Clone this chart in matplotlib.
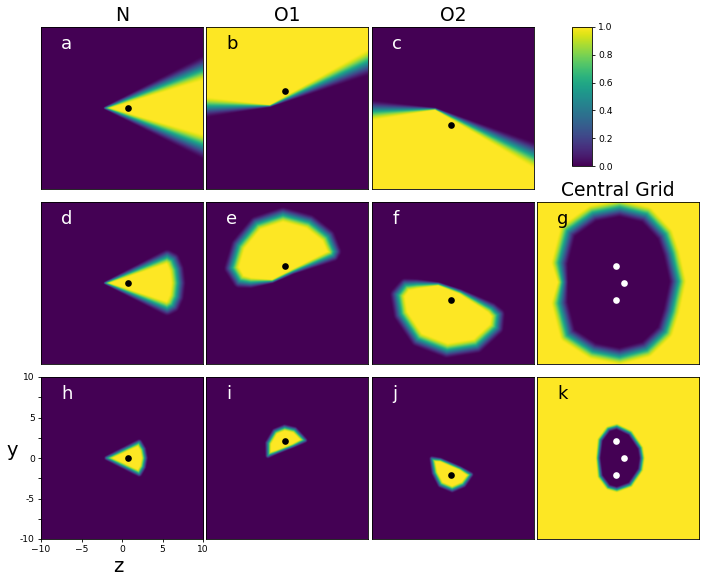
import numpy as np
import matplotlib
matplotlib.use('Agg')
import matplotlib.pyplot as plt
from matplotlib.path import Path

# outlines of the 0.5 contour: (z, y, edge width)
outline_a = [(-2.1, 0.0, 0.4), (14, 6.5, 4.0), (14, -6.3, 4.0)]
outline_b = [(-14, 0.0, 4.0), (-2.1, 0.25, 0.3), (14, 7.3, 4.2), (14, 20, 4.0), (-14, 20, 4.0)]
outline_c = [(-14, -0.35, 4.0), (-2.2, -0.1, 0.3), (14, -7.6, 4.2), (14, -20, 4.0), (-14, -20, 4.0)]
outline_d = [(-2.1, 0.0, 0.4), (5.6, 3.3, 1.9), (6.3, 2.9, 2.0), (6.8, 1.7, 2.0), (7.0, 0.0, 2.0),
             (6.8, -1.7, 2.0), (6.3, -2.8, 2.0), (5.6, -3.2, 1.9)]
outline_e = [(-1.8, 0.2, 0.5), (-4.5, 0.0, 1.5), (-5.9, 0.2, 1.9), (-6.9, 1.85, 2.0), (-6.05, 4.7, 2.0),
             (-3.8, 7.4, 2.0), (-0.5, 8.5, 2.0), (2.8, 7.6, 2.0), (5.1, 5.8, 2.0), (5.9, 3.9, 1.9),
             (5.7, 3.4, 1.7), (0.75, 1.4, 0.7)]
outline_f = [(-1.8, -0.1, 0.5), (-4.5, -0.1, 1.4), (-5.9, -0.2, 1.8), (-6.9, -1.45, 2.0), (-6.5, -3.9, 2.0),
             (-4.4, -7.0, 2.0), (-0.75, -8.4, 2.0), (2.95, -7.8, 2.0), (5.4, -5.55, 2.0), (5.6, -3.9, 1.9),
             (4.8, -3.1, 1.6), (0.9, -1.05, 0.7)]
outline_g = [(-6.8, 0.1, 1.5), (-7.2, 2.5, 2.3), (-6.2, 6.4, 2.3), (-3.1, 8.6, 2.3), (0.2, 9.25, 2.3),
             (3.5, 8.45, 2.3), (5.8, 6.0, 2.3), (6.6, 3.7, 2.3), (7.4, 0.2, 2.3), (6.6, -3.5, 2.3),
             (5.8, -6.0, 2.3), (3.5, -8.2, 2.3), (0.2, -9.05, 2.3), (-3.1, -8.4, 2.3), (-6.2, -6.4, 2.3),
             (-7.2, -2.5, 2.3)]
outline_h = [(-1.95, 0.0, 0.7), (2.05, 1.95, 0.9), (2.55, 1.1, 0.9), (2.75, 0.0, 0.9), (2.55, -1.1, 0.9),
             (2.05, -1.95, 0.9)]
outline_i = [(-2.35, 0.3, 0.8), (-2.35, 1.85, 0.9), (-1.5, 3.3, 0.9), (-0.3, 3.8, 0.9), (0.95, 3.5, 0.9),
             (2.2, 2.2, 0.8), (0.75, 1.5, 0.6), (-1.3, 0.7, 0.6)]
outline_j = [(-2.6, -0.1, 0.8), (-2.3, -1.85, 0.9), (-1.55, -3.3, 0.9), (-0.1, -3.9, 0.9), (1.3, -3.3, 0.9),
             (2.2, -2.05, 0.8), (0.9, -1.25, 0.6), (-1.55, -0.2, 0.6)]
outline_k = [(-2.5, 0.0, 0.7), (-2.25, 2.25, 0.8), (-1.25, 3.6, 0.8), (-0.2, 3.9, 0.8), (1.45, 3.1, 0.8),
             (2.7, 1.25, 0.8), (2.9, 0.0, 0.8), (2.7, -1.45, 0.8), (1.45, -3.3, 0.8), (-0.2, -3.9, 0.8),
             (-1.25, -3.6, 0.8), (-2.25, -2.25, 0.8)]

atom_n = (0.74, 0.0)
atom_o1 = (-0.25, 2.1)
atom_o2 = (-0.25, -2.1)

column_titles = ['N', 'O1', 'O2']
y_ticks = [-10, -7.5, -5, -2.5, 0, 2.5, 5, 7.5, 10]
y_labels = ['-10', '', '-5', '', '0', '', '5', '', '10']
x_ticks = [-10, -5, 0, 5, 10]
cbar_ticks = [0.0, 0.2, 0.4, 0.6, 0.8, 1.0]

W, H = 706, 583
col_x = [41, 206, 372, 537]
row_y = [27, 202, 377]
SIZE = 162

zz, yy = np.meshgrid(np.linspace(-10, 10, 300), np.linspace(-10, 10, 300))


def soft_mask(outline, invert=False):
    pts = np.array(outline, dtype=float)
    xy = np.column_stack([zz.ravel(), yy.ravel()])
    inside = Path(pts[:, :2]).contains_points(xy).reshape(zz.shape)

    best = np.full(zz.shape, np.inf)
    width = np.ones(zz.shape)
    for p, q in zip(pts, np.roll(pts, -1, axis=0)):
        d = q[:2] - p[:2]
        t = np.clip(((zz - p[0]) * d[0] + (yy - p[1]) * d[1]) / (d @ d), 0, 1)
        dist = np.hypot(zz - p[0] - t * d[0], yy - p[1] - t * d[1])
        w = p[2] + t * (q[2] - p[2])
        closer = dist < best
        best[closer] = dist[closer]
        width[closer] = w[closer]

    signed = np.where(inside, best, -best)
    t = np.clip(0.5 + signed / width, 0, 1)
    val = t * t * (3 - 2 * t)
    return 1 - val if invert else val


def make_axes(col, row):
    return fig.add_axes([col_x[col] / W, 1 - (row_y[row] + SIZE) / H, SIZE / W, SIZE / H])


def draw_panel(col, row, outline, letter, atoms, invert=False):
    ax = make_axes(col, row)
    ax.imshow(soft_mask(outline, invert), origin='lower', extent=[-10, 10, -10, 10],
              cmap='viridis', vmin=0, vmax=1, interpolation='bilinear')
    dot = 'white' if invert else 'black'
    for z, y in atoms:
        ax.plot(z, y, 'o', color=dot, ms=4.8, mew=0)
    ax.set_xlim(-10, 10)
    ax.set_ylim(-10, 10)
    ax.set_xticks([])
    ax.set_yticks([])
    for s in ax.spines.values():
        s.set_linewidth(0.6)
    ax.text(0.125, 0.865, letter, transform=ax.transAxes, fontsize=13,
            color='black' if letter in 'bgk' else 'white')
    return ax


fig = plt.figure(figsize=(W / 100, H / 100), dpi=100)

axes_a = draw_panel(0, 0, outline_a, 'a', [atom_n])
axes_b = draw_panel(1, 0, outline_b, 'b', [atom_o1])
axes_c = draw_panel(2, 0, outline_c, 'c', [atom_o2])
draw_panel(0, 1, outline_d, 'd', [atom_n])
draw_panel(1, 1, outline_e, 'e', [atom_o1])
draw_panel(2, 1, outline_f, 'f', [atom_o2])
axes_g = draw_panel(3, 1, outline_g, 'g', [atom_n, atom_o1, atom_o2], invert=True)
axes_h = draw_panel(0, 2, outline_h, 'h', [atom_n])
draw_panel(1, 2, outline_i, 'i', [atom_o1])
draw_panel(2, 2, outline_j, 'j', [atom_o2])
draw_panel(3, 2, outline_k, 'k', [atom_n, atom_o1, atom_o2], invert=True)

for ax, title in zip([axes_a, axes_b, axes_c], column_titles):
    ax.set_title(title, fontsize=13.5, pad=4)
axes_g.set_title('Central Grid', fontsize=13.5, pad=4)

axes_h.set_xticks(x_ticks)
axes_h.set_yticks(y_ticks)
axes_h.set_yticklabels(y_labels)
axes_h.tick_params(labelsize=6.6, length=2.5, width=0.6, pad=2)
fig.text(12 / W, 1 - 450 / H, 'y', fontsize=14, ha='center', va='center')
fig.text(118 / W, 1 - 566 / H, 'z', fontsize=14, ha='center', va='center')

cax = fig.add_axes([572 / W, 1 - 166 / H, 20 / W, 139 / H])
sm = plt.cm.ScalarMappable(cmap='viridis', norm=plt.Normalize(0, 1))
cbar = fig.colorbar(sm, cax=cax, ticks=cbar_ticks)
cbar.ax.tick_params(labelsize=6.6, length=2.5, width=0.6, pad=2)
cbar.outline.set_linewidth(0.6)

fig.savefig('out.png', dpi=100)
